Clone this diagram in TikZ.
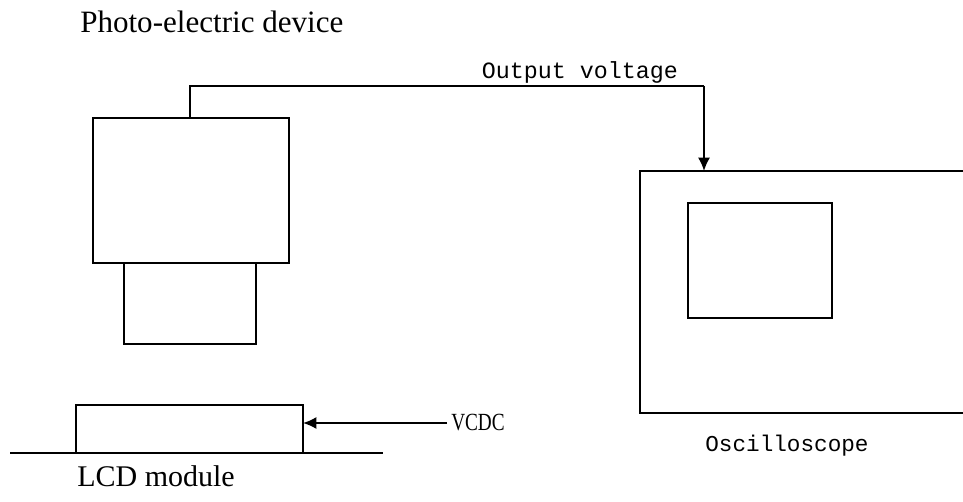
\documentclass[tikz,border=0pt]{standalone}
\usepackage{fontspec}
\setmainfont{Liberation Serif}
\setmonofont{Liberation Mono}
\usetikzlibrary{arrows.meta}

\begin{document}
\begin{tikzpicture}[x=0.75pt, y=-0.75pt, line cap=butt, line join=miter, >=Latex]
\tikzset{part/.style={line width=1.6pt}, wire/.style={line width=1.3pt}, sig/.style={-{Latex[length=10pt,width=9pt]}, line width=1.3pt}}
\useasboundingbox (0,0) rectangle (963,502);

% photo-electric device
\coordinate (D1) at (93,118);
\coordinate (D2) at (289,263);
\coordinate (L1) at (124,263);
\coordinate (L2) at (256,344);
\draw[part] (D1) rectangle (D2);
\draw[part] (L1) rectangle (L2);
\node[font=\fontsize{23.3}{25}\selectfont, anchor=base west, inner sep=0pt] (title) at (80,33) {Photo-electric device};

% oscilloscope (right side runs off the page)
\coordinate (O1) at (640,171);
\coordinate (O2) at (963,413);
\coordinate (S1) at (688,203);
\coordinate (S2) at (832,318);
\draw[part] (O2 |- O1) -- (O1) -- (O1 |- O2) -- (O2);
\draw[part] (S1) rectangle (S2);
\node[font=\ttfamily\fontsize{17}{19}\selectfont, anchor=base] (osc) at (787,451) {Oscilloscope};

% output voltage wire
\coordinate (W0) at (190,118);
\coordinate (W1) at (190,86);
\coordinate (W2) at (704,86);
\coordinate (W3) at (704,171);
\draw[wire] (W0) -- (W1) -- (W2);
\draw[sig] (W2) -- (W3);
\node[font=\ttfamily\fontsize{17.5}{19}\selectfont, anchor=base] (vout) at (580,79) {Output voltage};

% LCD module
\coordinate (M1) at (76,405);
\coordinate (M2) at (303,453);
\coordinate (B1) at (10,453);
\coordinate (B2) at (383,453);
\draw[part] (M1) rectangle (M2);
\draw[part] (B1) -- (B2);
\node[font=\fontsize{22.5}{24}\selectfont, anchor=base west, inner sep=0pt] (lcd) at (77,486) {LCD module};

% supply
\node[font=\fontsize{18.5}{20}\selectfont, anchor=west, inner sep=0pt] (vcdc) at (451,423) {\scalebox{0.78}[1]{VCDC}};
\draw[sig] (vcdc.west) ++(-4,0) coordinate (V0) -- (M2 |- V0);
\end{tikzpicture}
\end{document}
